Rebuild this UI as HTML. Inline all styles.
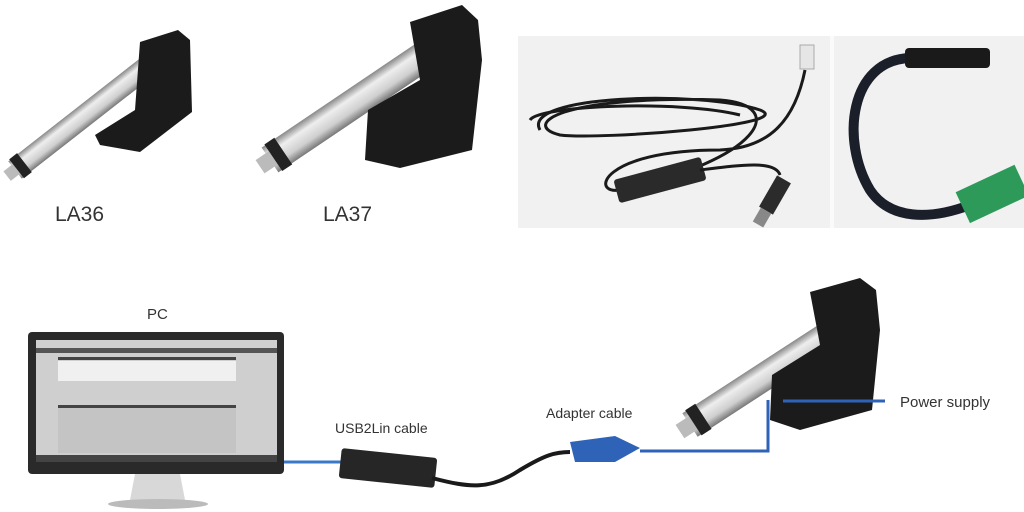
<!DOCTYPE html>
<html><head><meta charset="utf-8"><style>
html,body{margin:0;padding:0;background:#fff;width:1024px;height:512px;overflow:hidden}
text{font-family:"Liberation Sans",sans-serif;fill:#333}
</style></head><body>
<svg width="1024" height="512" viewBox="0 0 1024 512" xmlns="http://www.w3.org/2000/svg">
<defs>
<linearGradient id="al" x1="0" y1="0" x2="0" y2="1"><stop offset="0" stop-color="#888"/><stop offset="0.3" stop-color="#eee"/><stop offset="0.7" stop-color="#cfcfcf"/><stop offset="1" stop-color="#777"/></linearGradient>
</defs>
<rect x="518" y="36" width="506" height="192" fill="#f1f1f1"/>
<rect x="830" y="36" width="4" height="192" fill="#fafafa"/>
<!-- LA36 -->
<g transform="translate(15,170) rotate(-38)">
<rect x="0" y="-11" width="180" height="22" fill="url(#al)"/>
<rect x="-10" y="-6" width="14" height="12" fill="#bbb"/>
<rect x="2" y="-12" width="10" height="24" fill="#222"/>
</g>
<path d="M140,42 L178,30 L190,40 L192,112 L140,152 L100,145 L95,135 L135,110 Z" fill="#1b1b1b"/>
<!-- LA37 -->
<g transform="translate(270,160) rotate(-34)">
<rect x="0" y="-15" width="215" height="30" fill="url(#al)"/>
<rect x="-12" y="-8" width="16" height="16" fill="#bbb"/>
<rect x="4" y="-16" width="12" height="32" fill="#222"/>
</g>
<path d="M410,22 L462,5 L478,20 L482,60 L472,150 L400,168 L365,160 L368,110 L420,80 Z" fill="#1b1b1b"/>
<text x="55" y="221" font-size="21">LA36</text>
<text x="323" y="221" font-size="21">LA37</text>
<!-- USB2Lin photo -->
<path d="M540,130 C520,95 700,90 760,110 C800,125 600,140 560,135 C520,125 560,95 720,100 C790,105 760,160 620,190 C590,195 600,150 720,150 C770,148 795,120 805,70" fill="none" stroke="#1a1a1a" stroke-width="3"/>
<path d="M530,120 C540,105 680,100 740,115" fill="none" stroke="#1a1a1a" stroke-width="3"/>
<rect x="800" y="45" width="14" height="24" fill="#e6e6e6" stroke="#aaa"/>
<g transform="translate(660,180) rotate(-15)"><rect x="-45" y="-12" width="90" height="24" rx="3" fill="#2a2a2a"/></g>
<path d="M700,170 C740,165 775,160 780,175" fill="none" stroke="#1a1a1a" stroke-width="3"/>
<g transform="translate(775,195) rotate(-60)"><rect x="-18" y="-8" width="36" height="16" fill="#2b2b2b"/><rect x="-34" y="-6" width="16" height="12" fill="#888"/></g>
<!-- adapter photo -->
<path d="M910,58 C850,60 840,140 870,190 C890,220 930,220 970,205" fill="none" stroke="#1b1f2a" stroke-width="10"/>
<rect x="905" y="48" width="85" height="20" rx="4" fill="#1a1a1a"/>
<g transform="translate(990,195) rotate(-25)"><rect x="-30" y="-17" width="65" height="34" fill="#2e9a5a"/></g>
<!-- PC -->
<text x="147" y="319" font-size="15">PC</text>
<rect x="28" y="332" width="256" height="142" rx="4" fill="#2a2a2a"/>
<rect x="36" y="340" width="241" height="122" fill="#cfcfcf"/>
<rect x="36" y="348" width="241" height="5" fill="#555"/>
<rect x="36" y="455" width="241" height="7" fill="#444"/>
<rect x="58" y="357" width="178" height="3" fill="#444"/>
<rect x="58" y="361" width="178" height="20" fill="#f0f0f0"/>
<rect x="58" y="405" width="178" height="3" fill="#444"/>
<rect x="58" y="408" width="178" height="45" fill="#c4c4c4"/>
<path d="M135,474 L180,474 L185,500 L130,500 Z" fill="#d8d8d8"/>
<ellipse cx="158" cy="504" rx="50" ry="5" fill="#bbb"/>
<!-- cables -->
<line x1="284" y1="462" x2="345" y2="462" stroke="#3a78c8" stroke-width="3"/>
<g transform="translate(388,468) rotate(6)"><rect x="-48" y="-15" width="96" height="30" rx="3" fill="#262626"/></g>
<path d="M432,478 C470,488 490,490 520,470 C545,455 555,452 570,452" fill="none" stroke="#1a1a1a" stroke-width="4"/>
<text x="335" y="433" font-size="14">USB2Lin cable</text>
<text x="546" y="418" font-size="14">Adapter cable</text>
<path d="M570,442 L615,436 L640,448 L615,462 L575,462 Z" fill="#2f63b8"/>
<!-- bottom actuator -->
<g transform="translate(690,425) rotate(-33)">
<rect x="0" y="-14" width="195" height="28" fill="url(#al)"/>
<rect x="-12" y="-8" width="16" height="16" fill="#bbb"/>
<rect x="4" y="-15" width="12" height="30" fill="#222"/>
</g>
<path d="M810,292 L860,278 L876,290 L880,330 L872,410 L800,430 L770,420 L772,375 L820,345 Z" fill="#1b1b1b"/>
<polyline points="640,451 768,451 768,400" fill="none" stroke="#2f63b8" stroke-width="3"/>
<line x1="783" y1="401" x2="885" y2="401" stroke="#2f63b8" stroke-width="3"/>
<text x="900" y="407" font-size="15">Power supply</text>
</svg>
</body></html>
